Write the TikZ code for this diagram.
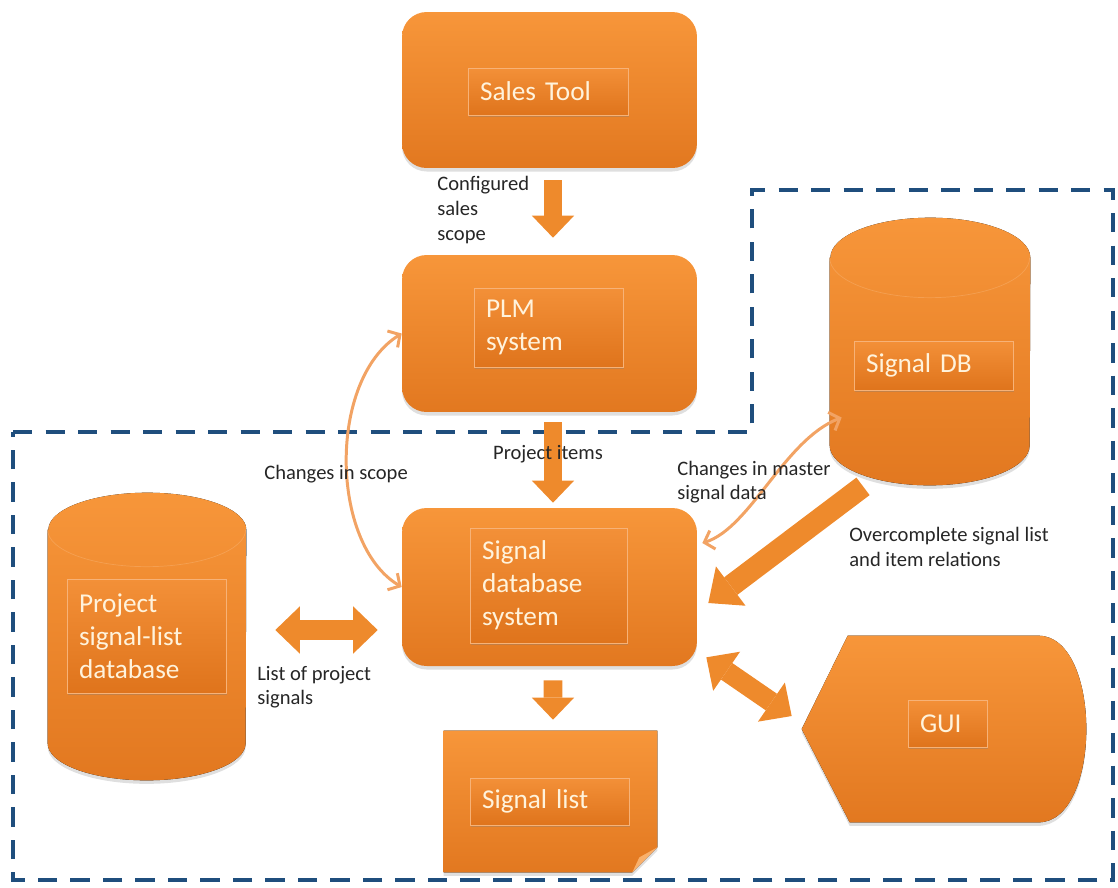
\documentclass[tikz,border=0pt]{standalone}
\usepackage{fontspec}
\setmainfont{Carlito}
\usetikzlibrary{arrows.meta,shadows,calc}

\definecolor{boxtop}{HTML}{F7963A}
\definecolor{boxbot}{HTML}{E27820}
\definecolor{tagtop}{HTML}{F39038}
\definecolor{tagbot}{HTML}{DF741C}
\definecolor{tagedge}{HTML}{F7B277}
\definecolor{tagtext}{HTML}{FFF3DC}
\definecolor{flowarrow}{HTML}{EE8A2C}
\definecolor{thinarrow}{HTML}{F2A364}
\definecolor{scopeline}{HTML}{1F4E7D}

\begin{document}
\begin{tikzpicture}[x=0.02cm, y=-0.02cm,
  every node/.style={font=\fontsize{11.7}{14}\selectfont},
  mainbox/.style={rectangle, rounded corners=14pt, top color=boxtop, bottom color=boxbot,
    minimum width=5.9cm, drop shadow={shadow xshift=0pt, shadow yshift=-2pt, opacity=0.25}},
  spot/.style={rectangle, inner sep=0pt},
  body/.style={top color=boxtop, bottom color=boxbot,
    drop shadow={shadow xshift=0pt, shadow yshift=-2pt, opacity=0.25}},
  lid/.style={draw=boxtop!60!white, line width=0.4pt, opacity=0.35},
  tag/.style={rectangle, top color=tagtop, bottom color=tagbot, draw=tagedge, line width=0.5pt,
    text=tagtext, align=left, inner xsep=0.24cm, font=\fontsize{15.5}{18.8}\selectfont,
    drop shadow={shadow xshift=0.5pt, shadow yshift=-1.2pt, opacity=0.35}},
  fatarrow/.style={draw=flowarrow, line width=10.8pt, -{Triangle[length=12.5pt, width=24pt, line width=0pt]}},
  fatboth/.style={draw=flowarrow, line width=11.4pt,
    {Triangle[length=14pt, width=27pt, line width=0pt]}-{Triangle[length=14pt, width=27pt, line width=0pt]}},
  bigarrow/.style={draw=flowarrow, line width=12.5pt, -{Triangle[length=16pt, width=28pt, line width=0pt]}},
  thinboth/.style={draw=thinarrow, line width=1.7pt,
    {Straight Barb[length=5pt, width=11pt]}-{Straight Barb[length=5pt, width=11pt]}},
  note/.style={align=left, inner sep=0pt, anchor=west, text=black!85}]

\useasboundingbox (0,0) rectangle (1118,887);

% dashed scope outline
\draw[scopeline, line width=2.3pt, dash pattern=on 11pt off 7.5pt]
  (13,432) -- (752,432) -- (752,190) -- (1113,190) -- (1113,880) -- (13,880) -- cycle;

% Sales tool
\node[mainbox, minimum height=3.12cm] (sales) at (549.5, 90) {};
\node[tag, minimum width=3.2cm, minimum height=0.94cm, text width=2.72cm] (salestag) at (548, 91.5) {Sales Tool};

% PLM system
\node[mainbox, minimum height=3.14cm] (plm) at (549.5, 333.5) {};
\node[tag, minimum width=2.98cm, minimum height=1.58cm, text width=2.5cm] (plmtag) at (548.5, 327.5) {PLM\\system};

% Signal database system
\node[mainbox, minimum height=3.16cm] (sdb) at (549.5, 587) {};
\node[tag, minimum width=3.14cm, minimum height=2.3cm, text width=2.66cm] (sdbtag) at (548.5, 585.5) {Signal\\database\\system};

% Signal list (note with folded corner)
\node[spot, minimum width=4.26cm, minimum height=2.82cm] (siglist) at (550.5, 801.5) {};
\fill[body] (siglist.north west) -- (siglist.north east) -- ([yshift=0.5cm]siglist.south east)
  -- ([xshift=-0.5cm]siglist.south east) -- (siglist.south west) -- cycle;
\fill[boxtop!75!white] ([yshift=0.5cm]siglist.south east) -- ([xshift=-0.5cm]siglist.south east)
  -- ([xshift=-0.36cm, yshift=0.3cm]siglist.south east) -- cycle;
\node[tag, minimum width=3.18cm, minimum height=0.94cm, text width=2.7cm] (siglisttag) at (549.5, 801.5) {Signal list};

% Project signal-list database (cylinder)
\node[spot, minimum width=3.96cm, minimum height=5.74cm] (projdb) at (147, 636.5) {};
\fill[body] ([yshift=-0.74cm]projdb.north west) -- ([yshift=0.74cm]projdb.south west)
  arc[start angle=180, end angle=360, x radius=1.98cm, y radius=0.74cm]
  -- ([yshift=-0.74cm]projdb.north east)
  arc[start angle=0, end angle=180, x radius=1.98cm, y radius=0.74cm] -- cycle;
\draw[lid] ([yshift=-0.74cm]projdb.north west) arc[start angle=180, end angle=360, x radius=1.98cm, y radius=0.74cm];
\node[tag, minimum width=3.18cm, minimum height=2.28cm, text width=2.7cm] (projtag) at (146.5, 636) {Project\\signal-list\\database};

% Signal DB (cylinder)
\node[spot, minimum width=4cm, minimum height=5.34cm] (sigdb) at (930, 351.5) {};
\fill[body] ([yshift=-0.8cm]sigdb.north west) -- ([yshift=0.8cm]sigdb.south west)
  arc[start angle=180, end angle=360, x radius=2cm, y radius=0.8cm]
  -- ([yshift=-0.8cm]sigdb.north east)
  arc[start angle=0, end angle=180, x radius=2cm, y radius=0.8cm] -- cycle;
\draw[lid] ([yshift=-0.8cm]sigdb.north west) arc[start angle=180, end angle=360, x radius=2cm, y radius=0.8cm];
\node[tag, minimum width=3.18cm, minimum height=0.98cm, text width=2.7cm] (sigdbtag) at (933.5, 365.5) {Signal DB};

% GUI (display shape)
\node[spot, minimum width=5.72cm, minimum height=3.72cm] (gui) at (945, 729) {};
\fill[body] ([xshift=0.92cm]gui.north west) -- ([xshift=-1cm]gui.north east)
  .. controls ([xshift=0.28cm]gui.north east) and ([xshift=0.28cm]gui.south east) .. ([xshift=-1cm]gui.south east)
  -- ([xshift=0.96cm]gui.south west) -- (gui.west) -- cycle;
\node[tag, minimum width=1.58cm, minimum height=0.94cm, text width=1.1cm] (guitag) at (947.5, 723.5) {GUI};

% block arrows
\draw[fatarrow, shorten <=0.24cm, shorten >=0.34cm] ([xshift=0.07cm]sales.south) -- ([xshift=0.07cm]plm.north);
\draw[fatarrow, shorten <=0.2cm, shorten >=0.1cm] ([xshift=0.07cm]plm.south) -- ([xshift=0.07cm]sdb.north);
\draw[fatarrow, shorten <=0.28cm, shorten >=0.22cm] ([xshift=0.07cm]sdb.south) -- ([xshift=0.05cm]siglist.north);
\coordinate (pairy) at ([yshift=0.13cm]projdb.east);
\draw[fatboth, shorten <=0.58cm, shorten >=0.48cm] (pairy) -- (pairy -| sdb.west);
\draw[fatboth] ($(sdb.south east)+(9,-9)$) -- ($(gui.west)+(-10,-13)$);
\draw[bigarrow] ($(sigdb.south)+(-67,1)$) -- ($(sdb.east)+(11,16)$);

% thin curved arrows
\draw[thinboth] (plm.west) .. controls +(-74,46) and +(-72,-43) .. (sdb.west);
\draw[thinboth] ($(sdb.east)+(5,-44)$) .. controls +(48,-15) and +(-57,22) .. ($(sigdb.west)+(12,66)$);

% labels
\node[note] (cfglabel) at (437, 210) {Configured\\sales\\scope};
\node[note, anchor=center] (itemslabel) at (548, 454) {Project items};
\node[note] (scopelabel) at (264, 474) {Changes in scope};
\node[note] (masterlabel) at (677, 482) {Changes in master\\signal data};
\node[note] (overlabel) at (849, 547) {Overcomplete signal list\\and item relations};
\node[note] (listlabel) at (257, 687) {List of project\\signals};

\end{tikzpicture}
\end{document}
